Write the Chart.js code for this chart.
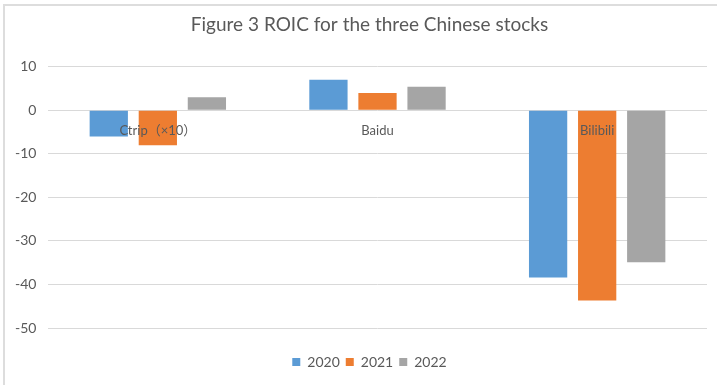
<!DOCTYPE html>
<html lang="en">
<head>
  <meta charset="UTF-8" />
  <title>ROIC chart</title>
  <script src="https://cdn.jsdelivr.net/npm/chart.js"></script>
  <style>
    html, body { margin: 0; padding: 0; background: #fff; }
    .wrap { position: relative; width: 717px; height: 385px; }
    .frame {
      position: absolute; left: 3px; top: 4px; right: 0; bottom: 0;
      border-top: 2px solid #dddddd; border-left: 2px solid #dddddd;
      pointer-events: none;
    }
  </style>
</head>
<body>
  <div class="wrap">
    <canvas id="roicChart" width="717" height="385"></canvas>
    <div class="frame"></div>
  </div>

  <script>
    const categories = ["Ctrip（×10）", "Baidu", "Bilibili"];
    const years = ["2020", "2021", "2022"];
    const roic2020 = [-6, 7, -38.4];
    const roic2021 = [-8, 4, -43.7];
    const roic2022 = [3, 5.4, -34.9];
    const yTicks = { min: -50, max: 10, step: 10 };

    const colors = ["#5B9BD5", "#ED7D31", "#A5A5A5"];
    const textColor = "#595959";
    const font = "Lato, 'Noto Sans CJK SC', 'Noto Sans', sans-serif";

    const series = [roic2020, roic2021, roic2022];

    new Chart(document.getElementById("roicChart"), {
      type: "bar",
      data: {
        labels: categories,
        datasets: series.map((vals, i) => ({
          label: years[i],
          data: vals,
          backgroundColor: colors[i],
          categoryPercentage: 0.67,
          barPercentage: 0.78
        }))
      },
      options: {
        responsive: false,
        animation: false,
        // wide left padding keeps the title/legend centred like the original
        layout: { padding: { left: 32, right: 10, top: 0, bottom: 6 } },
        plugins: {
          title: {
            display: true,
            text: "Figure 3 ROIC for the three Chinese stocks",
            color: textColor,
            font: { family: font, size: 19, weight: "normal" },
            padding: { top: 13, bottom: 31 }
          },
          legend: {
            position: "bottom",
            title: {
              // empty title just pushes the legend down from the plot
              display: true,
              text: "",
              font: { size: 1, lineHeight: 1 },
              padding: { top: 0, bottom: 20 }
            },
            labels: {
              color: textColor,
              font: { family: font, size: 14 },
              boxWidth: 8,
              boxHeight: 8,
              padding: 6
            }
          },
          tooltip: { enabled: false }
        },
        scales: {
          x: {
            position: { y: 0 },
            grid: { display: false, drawTicks: false },
            border: { display: false },
            ticks: {
              z: 1,
              color: textColor,
              font: { family: font, size: 13 },
              padding: 13,
              maxRotation: 0,
              autoSkip: false
            }
          },
          y: {
            min: yTicks.min,
            max: yTicks.max,
            afterFit: s => { s.width = 16; },
            grid: { color: "#d9d9d9", lineWidth: 1, drawTicks: false },
            border: { display: false },
            ticks: {
              stepSize: yTicks.step,
              color: textColor,
              font: { family: font, size: 14 },
              // mirrored so the labels are not clipped to the narrow axis box
              mirror: true,
              crossAlign: "far",
              padding: -33
            }
          }
        }
      }
    });
  </script>
</body>
</html>
